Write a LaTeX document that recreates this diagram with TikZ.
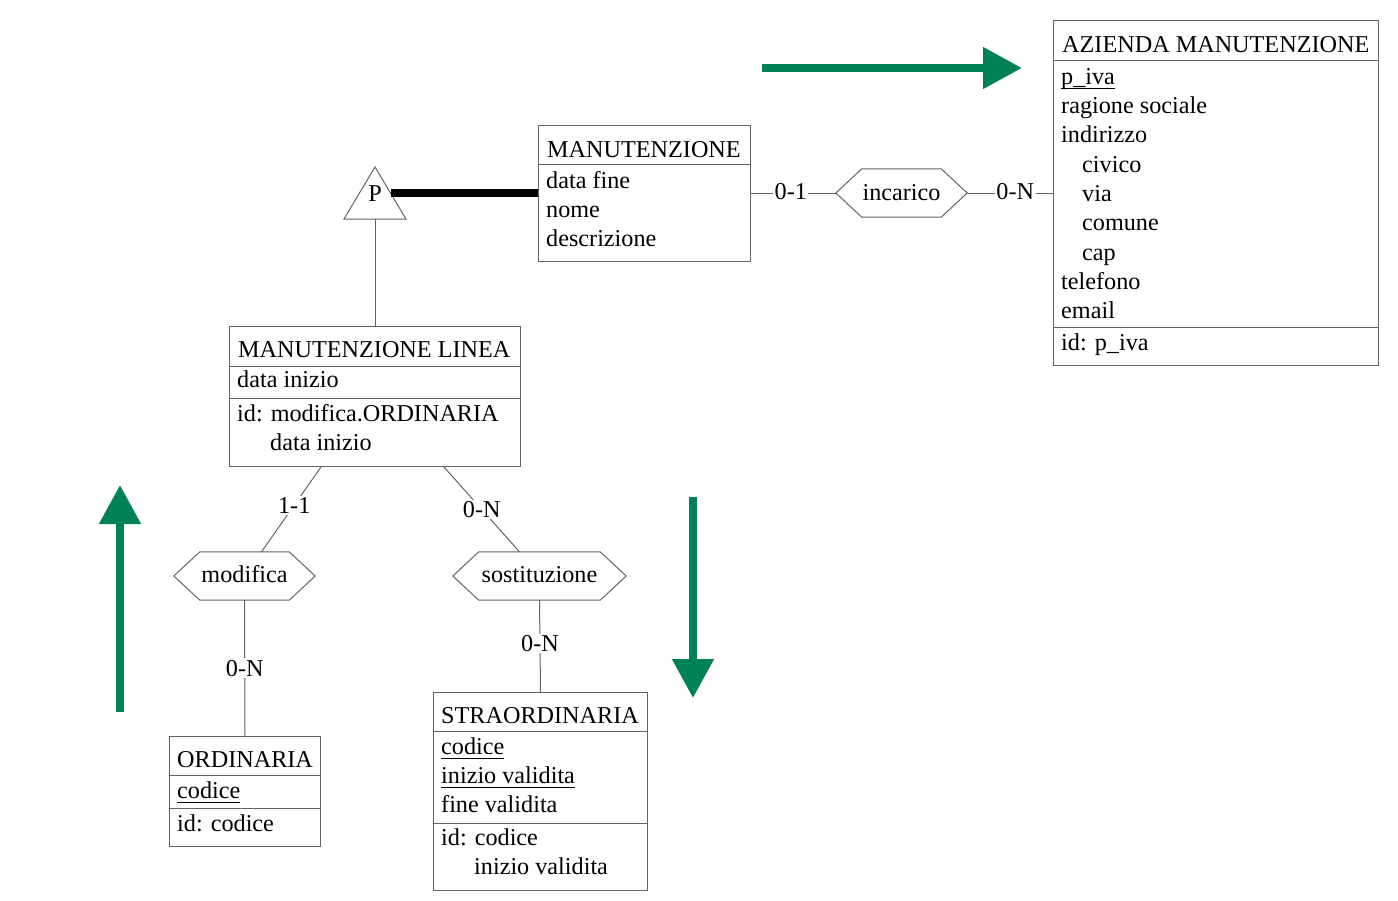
\documentclass[tikz,border=0pt]{standalone}
\usepackage{fontspec}
\setmainfont{Liberation Serif}
\usetikzlibrary{arrows.meta}
\definecolor{ergreen}{RGB}{0,130,85}
\definecolor{erline}{RGB}{100,100,100}
% underlined identifier attribute
\newsavebox\keybox
\newcommand{\keyattr}[1]{\sbox\keybox{#1}\rlap{\rule[-5pt]{\wd\keybox}{1.3pt}}\usebox\keybox}

\begin{document}
\begin{tikzpicture}[x=1pt,y=-1pt,
  every node/.style={font=\fontsize{24.2}{29}\selectfont},
  entity/.style={draw=erline, line width=1pt, rectangle, inner sep=0pt, anchor=north west},
  sepline/.style={draw=erline, line width=1pt},
  txt/.style={anchor=base west, inner sep=0pt, text=black},
  reltext/.style={anchor=base, inner sep=0pt},
  relbox/.style={inner sep=0pt, minimum height=48pt},
  hexline/.style={draw=erline, line width=1pt},
  link/.style={draw=erline, line width=1pt},
  card/.style={fill=white, inner sep=1.5pt},
  bigarrow/.style={draw=ergreen, line width=8pt, -{Triangle[length=39pt,width=40pt]}},
]
\useasboundingbox (0,0) rectangle (1398,900);

% ---------- AZIENDA MANUTENZIONE ----------
\node[entity, minimum width=325pt, minimum height=345pt] (az) at (1053,20) {};
\draw[sepline] (az.west |- 0,60) -- (az.east |- 0,60);
\draw[sepline] (az.west |- 0,327) -- (az.east |- 0,327);
\node[txt] (az0) at (1062,52) {AZIENDA MANUTENZIONE};
\node[txt] (az1) at (1061,84) {\keyattr{p\_iva}};
\node[txt] (az2) at (1061,113) {ragione sociale};
\node[txt] (az3) at (1061,142.5) {indirizzo};
\node[txt] (az4) at (1082,172) {civico};
\node[txt] (az5) at (1082,201) {via};
\node[txt] (az6) at (1082,230.5) {comune};
\node[txt] (az7) at (1082,260) {cap};
\node[txt] (az8) at (1061,289) {telefono};
\node[txt] (az9) at (1061,318) {email};
\node[txt] (az10) at (1061,350) {id: p\_iva};

% ---------- MANUTENZIONE ----------
\node[entity, minimum width=212pt, minimum height=136pt] (man) at (538,125) {};
\draw[sepline] (man.west |- 0,164) -- (man.east |- 0,164);
\node[txt] (man0) at (547,157) {MANUTENZIONE};
\node[txt] (man1) at (546,188) {data fine};
\node[txt] (man2) at (546,217) {nome};
\node[txt] (man3) at (546,246) {descrizione};

% ---------- MANUTENZIONE LINEA ----------
\node[entity, minimum width=291pt, minimum height=140pt] (ml) at (229,326) {};
\draw[sepline] (ml.west |- 0,366) -- (ml.east |- 0,366);
\draw[sepline] (ml.west |- 0,398) -- (ml.east |- 0,398);
\node[txt] (ml0) at (238,357) {MANUTENZIONE LINEA};
\node[txt] (ml1) at (237,387) {data inizio};
\node[txt] (ml2) at (237,421) {id: modifica.ORDINARIA};
\node[txt] (ml3) at (270,450) {data inizio};

% ---------- ORDINARIA ----------
\node[entity, minimum width=151pt, minimum height=110pt] (ord) at (169,736) {};
\draw[sepline] (ord.west |- 0,775) -- (ord.east |- 0,775);
\draw[sepline] (ord.west |- 0,808) -- (ord.east |- 0,808);
\node[txt] (ord0) at (177,767) {ORDINARIA};
\node[txt] (ord1) at (177,798) {\keyattr{codice}};
\node[txt] (ord2) at (177,831) {id: codice};

% ---------- STRAORDINARIA ----------
\node[entity, minimum width=214pt, minimum height=198pt] (str) at (433,692) {};
\draw[sepline] (str.west |- 0,731) -- (str.east |- 0,731);
\draw[sepline] (str.west |- 0,823) -- (str.east |- 0,823);
\node[txt] (str0) at (441,723) {STRAORDINARIA};
\node[txt] (str1) at (441,754) {\keyattr{codice}};
\node[txt] (str2) at (441,783) {\keyattr{inizio validita}};
\node[txt] (str3) at (441,812) {fine validita};
\node[txt] (str4) at (441,845) {id: codice};
\node[txt] (str5) at (474,874) {inizio validita};

% ---------- relationships (hexagons) ----------
\node[relbox, minimum width=131pt] (inc) at (901.5,193) {};
\draw[hexline] (inc.west) -- ([xshift=26pt]inc.north west) -- ([xshift=-26pt]inc.north east)
  -- (inc.east) -- ([xshift=-26pt]inc.south east) -- ([xshift=26pt]inc.south west) -- cycle;
\node[reltext] (incT) at (901.5,200) {incarico};

\node[relbox, minimum width=141pt] (mod) at (244.5,576) {};
\draw[hexline] (mod.west) -- ([xshift=26pt]mod.north west) -- ([xshift=-26pt]mod.north east)
  -- (mod.east) -- ([xshift=-26pt]mod.south east) -- ([xshift=26pt]mod.south west) -- cycle;
\node[reltext] (modT) at (244.5,582) {modifica};

\node[relbox, minimum width=173pt] (sos) at (539.5,576) {};
\draw[hexline] (sos.west) -- ([xshift=26pt]sos.north west) -- ([xshift=-26pt]sos.north east)
  -- (sos.east) -- ([xshift=-26pt]sos.south east) -- ([xshift=26pt]sos.south west) -- cycle;
\node[reltext] (sosT) at (539.5,582) {sostituzione};

% ---------- generalization (P) ----------
\coordinate (gtop) at (375,167);
\coordinate (gleft) at (344,219);
\coordinate (gright) at (406,219);
\draw[hexline] (gtop) -- (gright) -- (gleft) -- cycle;
\node[reltext] (gen) at (375,201) {P};
\coordinate (gjoin) at (390.5,193);
\coordinate (gbase) at (375,219);
\draw[line width=8pt] (gjoin) -- (gjoin -| man.west);
\draw[link] (gbase) -- (gbase |- ml.north);

% ---------- role links with cardinalities ----------
\draw[link] (man.east |- 0,193) -- node[card, pos=0.47, yshift=1pt] (c1) {0-1} (inc.west);
\draw[link] (inc.east) -- node[card, pos=0.56, yshift=1pt] (c2) {0-N} (az.west |- 0,193);
\draw[link] ([xshift=92pt]ml.south west) -- node[card, pos=0.45] (c3) {1-1} ([xshift=17pt]mod.north);
\draw[link] ([xshift=215pt]ml.south west) -- node[card, pos=0.5] (c4) {0-N} ([xshift=-20pt]sos.north);
\draw[link] (mod.south) -- node[card] (c5) {0-N} (ord.north);
\draw[link] (sos.south) -- node[card, pos=0.47] (c6) {0-N} (str.north);

% ---------- green direction arrows ----------
\coordinate (ga1s) at (762,68);
\coordinate (ga1e) at (1022,68);
\coordinate (ga2s) at (120,712);
\coordinate (ga2e) at (120,485);
\coordinate (ga3s) at (693,497);
\coordinate (ga3e) at (693,698);
\draw[bigarrow] (ga1s) -- (ga1e);
\draw[bigarrow] (ga2s) -- (ga2e);
\draw[bigarrow] (ga3s) -- (ga3e);
\end{tikzpicture}
\end{document}
